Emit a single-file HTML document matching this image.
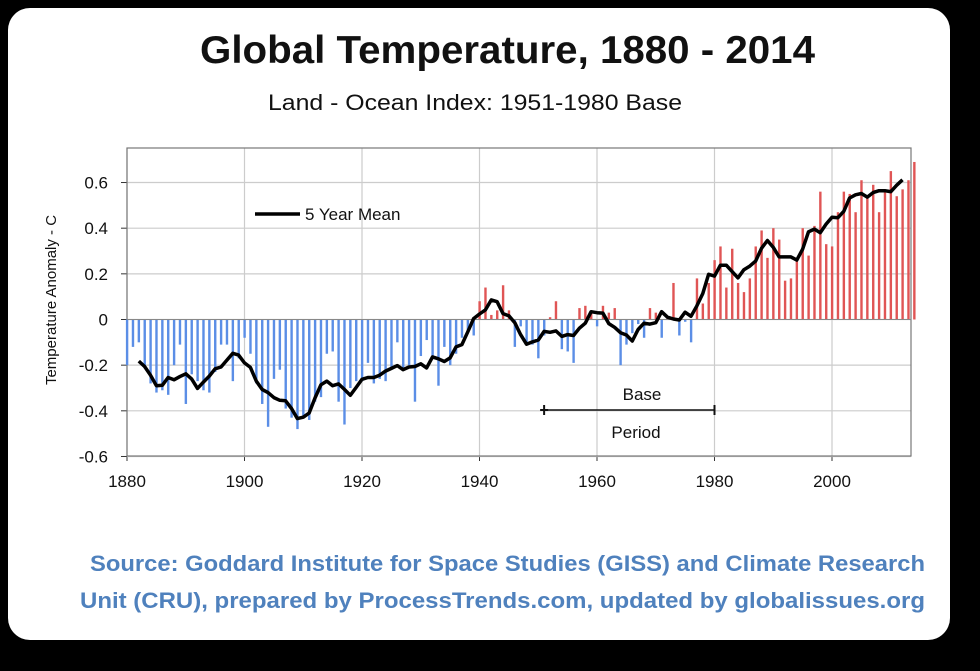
<!DOCTYPE html>
<html><head><meta charset="utf-8"><style>
html,body{margin:0;padding:0;background:#000;}
body{width:980px;height:671px;overflow:hidden;position:relative;font-family:"Liberation Sans",sans-serif;}
</style></head><body>
<svg id="s" width="980" height="671" xmlns="http://www.w3.org/2000/svg" style="position:absolute;left:0;top:0">
<rect x="0" y="0" width="980" height="671" fill="#000"/>
<rect x="8" y="8" width="942" height="632" rx="22" fill="#fff"/>
<text x="200" y="63" textLength="615" lengthAdjust="spacingAndGlyphs" font-size="39" font-weight="bold" fill="#111">Global Temperature, 1880 - 2014</text>
<text x="268" y="110" textLength="414" lengthAdjust="spacingAndGlyphs" font-size="22" fill="#111">Land - Ocean Index: 1951-1980 Base</text>
<g id="plot"></g>
<text transform="translate(56,300) rotate(-90)" text-anchor="middle" font-size="15" fill="#111">Temperature Anomaly - C</text>
<text x="90" y="571" textLength="835" lengthAdjust="spacingAndGlyphs" font-size="22" font-weight="bold" fill="#4f81bd">Source: Goddard Institute for Space Studies (GISS) and Climate Research</text>
<text x="80" y="608" textLength="845" lengthAdjust="spacingAndGlyphs" font-size="22" font-weight="bold" fill="#4f81bd">Unit (CRU), prepared by ProcessTrends.com, updated by globalissues.org</text>
</svg>
<script>
var d=[-20,-12,-10,-21,-28,-32,-31,-33,-20,-11,-37,-24,-27,-31,-32,-23,-11,-11,-27,-17,-8,-15,-28,-37,-47,-26,-22,-39,-43,-48,-43,-44,-36,-34,-15,-14,-36,-46,-30,-27,-27,-19,-28,-26,-27,-22,-10,-22,-20,-36,-16,-9,-16,-29,-12,-20,-15,-3,0,-2,13,19,7,9,20,9,-7,-3,-11,-11,-17,-7,1,8,-13,-14,-19,5,6,3,-3,6,3,5,-20,-11,-6,-2,-8,5,3,-8,1,16,-7,-1,-10,18,7,16,26,32,14,31,16,12,18,32,39,27,45,40,22,23,32,45,33,46,61,38,39,54,63,62,54,68,61,66,54,64,72,61,64,68,75];
for(var i=0;i<d.length;i++){var yr=1880+i;
 if(yr>=1937&&yr<=1946)d[i]-=5;
 if(yr>=1990&&yr<2014)d[i]-=5;
 if(yr>=2000&&yr<2014)d[i]-=2;
 if(yr==2014)d[i]=69;}
var X=function(y){return 127+(y-1880)*5.875;};
var Y=function(v){return 319.5-v*228.3;};
var h='';
for(var i=0;i<=6;i++){var x=127+i*117.5;h+='<line x1="'+x+'" y1="148" x2="'+x+'" y2="456" stroke="#ccc" stroke-width="1.2"/>';
h+='<text x="'+x+'" y="487" text-anchor="middle" font-size="17" fill="#111">'+(1880+20*i)+'</text>';h+='<line x1="'+x+'" y1="456" x2="'+x+'" y2="461" stroke="#333"/>';}
for(var k=-3;k<=3;k++){var v=k*0.2,y=Y(v);h+='<line x1="127" y1="'+y+'" x2="911" y2="'+y+'" stroke="#ccc" stroke-width="1.2"/>';
h+='<line x1="121" y1="'+y+'" x2="127" y2="'+y+'" stroke="#333"/>';
h+='<text x="108" y="'+(y+6)+'" text-anchor="end" font-size="17" fill="#111">'+(k==0?'0':v.toFixed(1))+'</text>';}
h+='<rect x="127" y="148" width="784" height="308" fill="none" stroke="#777" stroke-width="1.2"/>';
for(var i=0;i<d.length;i++){var v=d[i]/100,x=X(1880+i),y0=Y(0),y1=Y(Math.min(v,0.74));
h+='<rect x="'+(x-1.1)+'" y="'+Math.min(y0,y1)+'" width="2.4" height="'+Math.abs(y1-y0)+'" fill="'+(v<0?'#5b8ee6':'#e05555')+'"/>';}
h+='<line x1="127" y1="'+Y(0)+'" x2="911" y2="'+Y(0)+'" stroke="#888" stroke-width="1"/>';
var p=[];for(var i=2;i<d.length-2;i++){var s=0;for(var j=-2;j<=2;j++)s+=d[i+j];p.push(X(1880+i).toFixed(1)+','+Y(s/500).toFixed(1));}
h+='<polyline points="'+p.join(' ')+'" fill="none" stroke="#000" stroke-width="3.5" stroke-linejoin="round"/>';
h+='<line x1="255" y1="214" x2="300" y2="214" stroke="#000" stroke-width="3.5"/><text x="305" y="220" font-size="17" fill="#111">5 Year Mean</text>';
var a=X(1951),b=X(1980);
h+='<line x1="'+a+'" y1="410" x2="'+b+'" y2="410" stroke="#111" stroke-width="1.5"/>';
h+='<line x1="'+(a-4)+'" y1="410" x2="'+(a+4)+'" y2="410" stroke="#111" stroke-width="2"/><line x1="'+a+'" y1="405" x2="'+a+'" y2="415" stroke="#111" stroke-width="2"/>';
h+='<line x1="'+b+'" y1="405" x2="'+b+'" y2="415" stroke="#111" stroke-width="2"/>';
h+='<text x="642" y="400" text-anchor="middle" font-size="17" fill="#111">Base</text><text x="636" y="438" text-anchor="middle" font-size="17" fill="#111">Period</text>';
document.getElementById('plot').innerHTML=h;
</script>
</body></html>
